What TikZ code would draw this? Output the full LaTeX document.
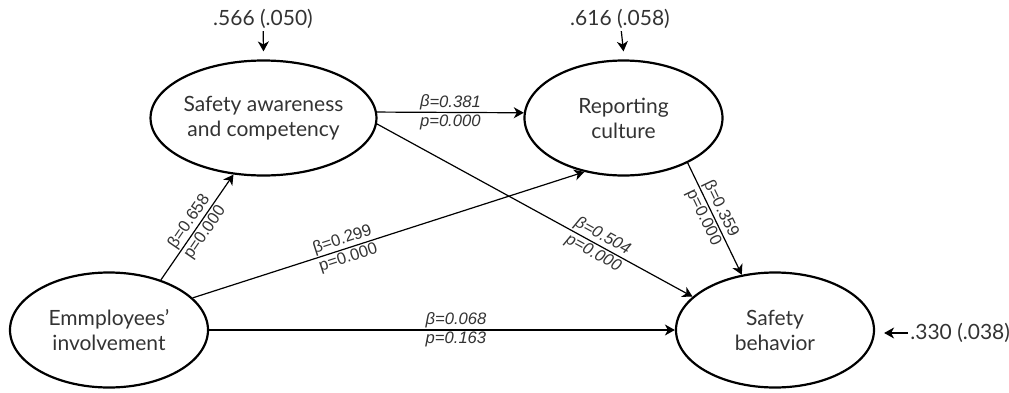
\documentclass[tikz,border=0pt]{standalone}
\usepackage{fontspec}
\setmainfont{Lato}
\newfontfamily\coeffont{Liberation Sans}
\usetikzlibrary{arrows.meta,shapes.geometric,positioning}
\tikzset{
    construct/.style={draw, ellipse, line width=1.1pt, minimum width=99pt, minimum height=57.5pt,
        inner sep=0pt, align=center, text=black!80, font=\fontsize{10.5}{12.5}\selectfont},
    effect/.style={-{Stealth[length=5pt, width=5.5pt, inset=1.5pt]}, line width=0.6pt},
    coef/.style={sloped, inner sep=0pt, align=center, text=black!80, font=\coeffont\fontsize{8.3}{9.6}\selectfont},
    coefit/.style={coef, font=\coeffont\itshape\fontsize{8.3}{9.6}\selectfont},
    resid/.style={inner sep=1pt, text=black!80, font=\fontsize{10.5}{12.5}\selectfont}
}

\begin{document}
\begin{tikzpicture}[x=0.5pt, y=-0.5pt]
    \useasboundingbox (0,0) rectangle (1009,392);
    % latent constructs
    \node[construct] (sa) at (263.5,118) {Safety awareness\\and competency};
    \node[construct] (rc) at (623.5,118) {Reporting\\culture};
    \node[construct] (ei) at (109,330) {Emmployees'\\involvement};
    \node[construct] (sb) at (775,330) {Safety\\behavior};
    % residual variances
    \node[resid] (sares) at (263,19) {.566 (.050)};
    \node[resid] (rcres) at (620,19) {.616 (.058)};
    \node[resid, anchor=west] (sbres) at (908,333) {.330 (.038)};
    \draw[effect] (sares) -- ([yshift=4pt]sa.north);
    \draw[effect] (rcres) -- ([yshift=4pt]rc.north);
    \draw[effect] (sbres.west) -- ([xshift=4.5pt]sb.east |- sbres.west);
    % paths
    \draw[effect] (sa.3) -- (rc.177)
        node[coefit, midway] {β=0.381\\p=0.000};
    \draw[effect] (sa.-3) -- (sb.158)
        node[coefit, pos=0.7] {β=0.504\\p=0.000};
    \draw[effect] (rc.-35) -- (sb.121)
        node[coef, pos=0.45] {β=0.359\\p=0.000};
    \draw[effect] (ei.44) -- (sa.242)
        node[coef, midway] {β=0.658\\p=0.000};
    \draw[effect] (ei.21) -- (rc.234)
        node[coef, pos=0.39] {β=0.299\\p=0.000};
    \draw[effect] (ei) -- (sb)
        node[coefit, pos=0.53] {β=0.068\\p=0.163};
\end{tikzpicture}
\end{document}
